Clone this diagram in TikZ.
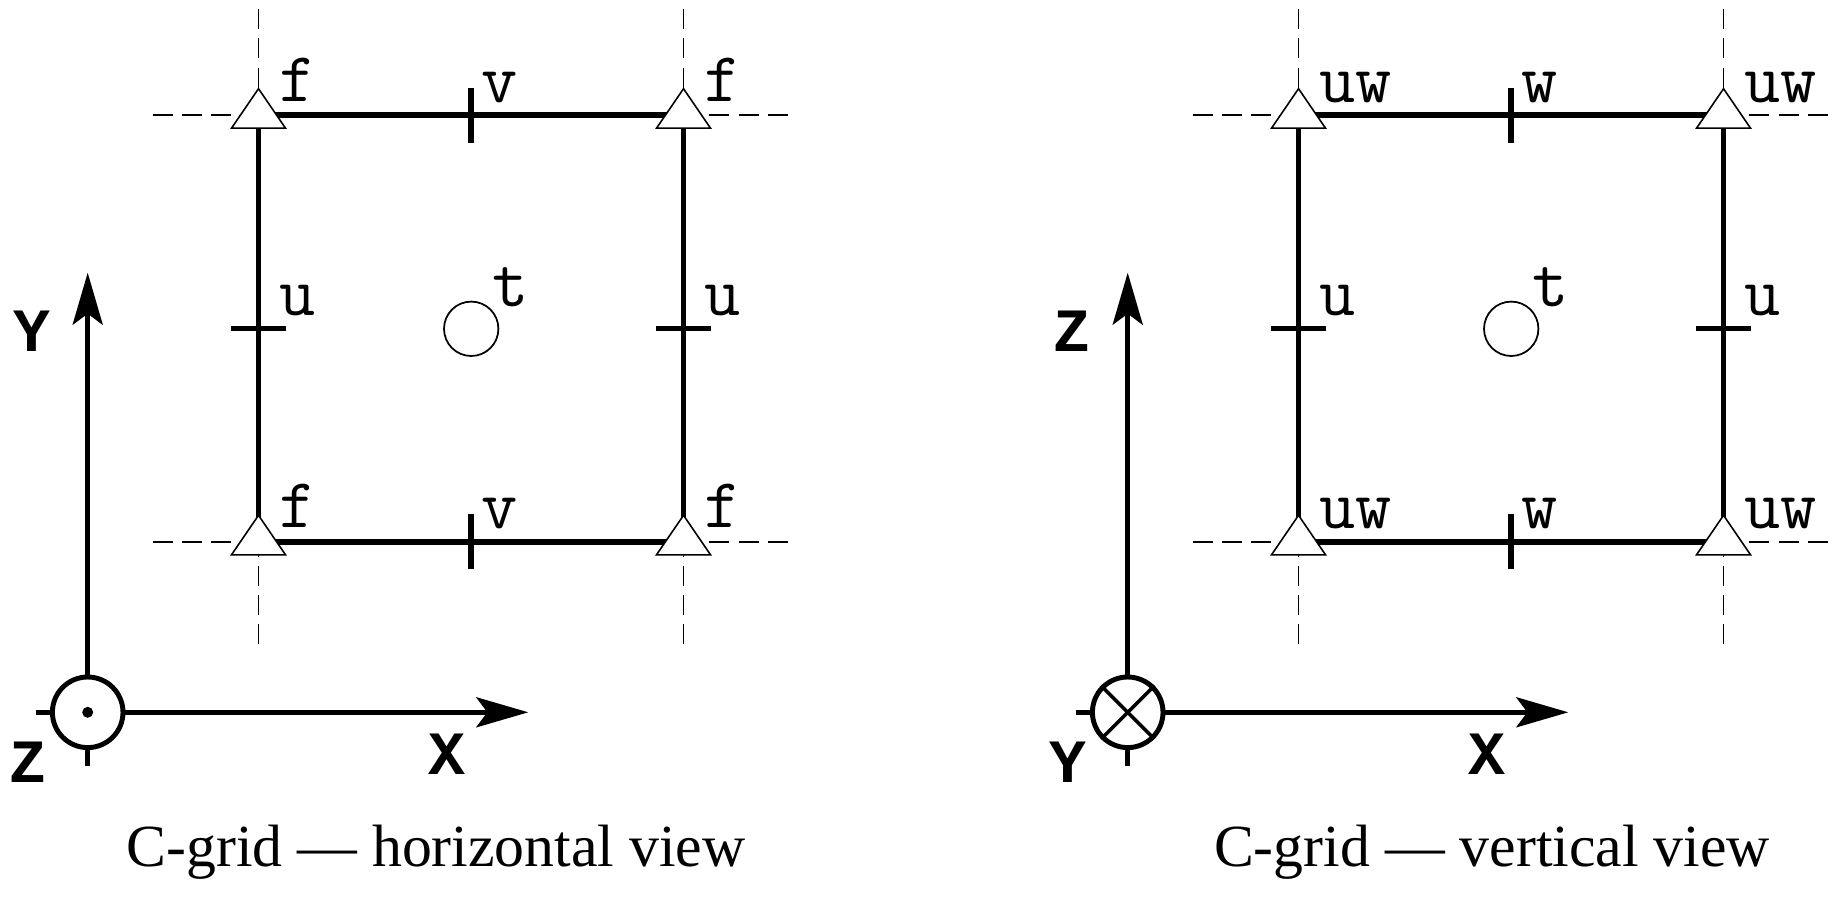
\documentclass[tikz,border=0pt]{standalone}
\usepackage{fontspec}
\setmainfont{Liberation Serif}
\newfontfamily\axfont{Liberation Mono}
\usetikzlibrary{arrows.meta}

\begin{document}
\begin{tikzpicture}[
    edge/.style={line width=1.6pt},
    tickmark/.style={line width=1.6pt},
    guide/.style={line width=0.45pt, dash pattern=on 0.2cm off 0.093cm},
    axis/.style={line width=1.4pt, -{Stealth[length=0.52cm, width=0.30cm, inset=0.11cm]}},
    stub/.style={line width=1.4pt},
    orig/.style={circle, draw, line width=1.4pt, minimum size=0.706cm, inner sep=0pt},
    tpt/.style={circle, draw, line width=0.5pt, minimum size=0.544cm, inner sep=0pt},
    lbl/.style={anchor=base west, inner sep=0pt, font=\fontsize{20}{22}\selectfont\ttfamily},
    axlbl/.style={inner sep=0pt, font=\fontsize{17.5}{20}\selectfont\axfont\bfseries},
    caption/.style={anchor=base, inner sep=0pt, font=\fontsize{17}{19}\selectfont},
    tri/.pic={\draw[fill=white, line width=0.45pt] (0,0.265) -- (0.27,-0.13) -- (-0.27,-0.13) -- cycle;}
]
    \useasboundingbox (0,0) rectangle (18.43,9.18);

    % horizontal view
    \coordinate (hbl) at (2.585,3.762);
    \coordinate (hbr) at (6.835,3.762);
    \coordinate (htr) at (6.835,8.028);
    \coordinate (htl) at (2.585,8.028);
    \coordinate (hul) at (2.585,5.895);
    \coordinate (hur) at (6.835,5.895);
    \coordinate (hvb) at (4.71,3.762);
    \coordinate (hvt) at (4.71,8.028);

    \draw[guide] ([yshift=1.06cm]htl) -- ([yshift=-1.06cm]hbl);
    \draw[guide] ([yshift=1.06cm]htr) -- ([yshift=-1.06cm]hbr);
    \draw[guide] ([xshift=-1.06cm]htl) -- ([xshift=1.08cm]htr);
    \draw[guide] ([xshift=-1.06cm]hbl) -- ([xshift=1.08cm]hbr);

    \draw[edge] (hbl) -- (hbr) -- (htr) -- (htl) -- cycle;
    \draw[tickmark] ([xshift=-0.275cm]hul) -- ([xshift=0.275cm]hul);
    \draw[tickmark] ([xshift=-0.275cm]hur) -- ([xshift=0.275cm]hur);
    \draw[tickmark] ([yshift=-0.275cm]hvb) -- ([yshift=0.275cm]hvb);
    \draw[tickmark] ([yshift=-0.275cm]hvt) -- ([yshift=0.275cm]hvt);

    \pic at (hbl) {tri};
    \pic at (hbr) {tri};
    \pic at (htr) {tri};
    \pic at (htl) {tri};

    \node[tpt] (ht) at (4.712,5.892) {};

    \node[lbl] (hftl) at ([shift={(0.2,0.14)}]htl) {f};
    \node[lbl] (hftr) at ([shift={(0.2,0.14)}]htr) {f};
    \node[lbl] (hfbl) at ([shift={(0.2,0.14)}]hbl) {f};
    \node[lbl] (hfbr) at ([shift={(0.2,0.14)}]hbr) {f};
    \node[lbl] (hvtl) at ([shift={(0.1,0.13)}]hvt) {v};
    \node[lbl] (hvbl) at ([shift={(0.1,0.13)}]hvb) {v};
    \node[lbl] (hull) at ([shift={(0.2,0.13)}]hul) {u};
    \node[lbl] (hurl) at ([shift={(0.2,0.13)}]hur) {u};
    \node[lbl] (htl) at ([shift={(0.21,0.225)}]ht.center) {t};

    % axes, z out of the page
    \node[orig] (ho) at (0.877,2.057) {};
    \coordinate (hxtip) at (5.283,2.057);
    \coordinate (hytip) at (0.877,6.453);
    \coordinate (hstubw) at (0.36,2.057);
    \coordinate (hstubs) at (0.877,1.523);
    \draw[axis] (ho.east) -- (hxtip);
    \draw[axis] (ho.north) -- (hytip);
    \draw[stub] (hstubw) -- (ho.west);
    \draw[stub] (ho.south) -- (hstubs);
    \fill (ho.center) circle (0.055);

    \node[axlbl] (hy) at (0.323,5.87) {Y};
    \node[axlbl] (hz) at (0.283,1.56) {Z};
    \node[axlbl] (hx) at (4.47,1.633) {X};

    \node[caption] (hcap) at (4.36,0.52) {C-grid --- horizontal view};

    % vertical view
    \begin{scope}[xshift=10.4cm]
    \coordinate (vbl) at (2.585,3.762);
    \coordinate (vbr) at (6.835,3.762);
    \coordinate (vtr) at (6.835,8.028);
    \coordinate (vtl) at (2.585,8.028);
    \coordinate (vul) at (2.585,5.895);
    \coordinate (vur) at (6.835,5.895);
    \coordinate (vwb) at (4.71,3.762);
    \coordinate (vwt) at (4.71,8.028);

    \draw[guide] ([yshift=1.06cm]vtl) -- ([yshift=-1.06cm]vbl);
    \draw[guide] ([yshift=1.06cm]vtr) -- ([yshift=-1.06cm]vbr);
    \draw[guide] ([xshift=-1.06cm]vtl) -- ([xshift=1.08cm]vtr);
    \draw[guide] ([xshift=-1.06cm]vbl) -- ([xshift=1.08cm]vbr);

    \draw[edge] (vbl) -- (vbr) -- (vtr) -- (vtl) -- cycle;
    \draw[tickmark] ([xshift=-0.275cm]vul) -- ([xshift=0.275cm]vul);
    \draw[tickmark] ([xshift=-0.275cm]vur) -- ([xshift=0.275cm]vur);
    \draw[tickmark] ([yshift=-0.275cm]vwb) -- ([yshift=0.275cm]vwb);
    \draw[tickmark] ([yshift=-0.275cm]vwt) -- ([yshift=0.275cm]vwt);

    \pic at (vbl) {tri};
    \pic at (vbr) {tri};
    \pic at (vtr) {tri};
    \pic at (vtl) {tri};

    \node[tpt] (vt) at (4.712,5.892) {};

    \node[lbl] (vuwtl) at ([shift={(0.2,0.13)}]vtl) {uw};
    \node[lbl] (vuwtr) at ([shift={(0.2,0.13)}]vtr) {uw};
    \node[lbl] (vuwbl) at ([shift={(0.2,0.13)}]vbl) {uw};
    \node[lbl] (vuwbr) at ([shift={(0.2,0.13)}]vbr) {uw};
    \node[lbl] (vwtl) at ([shift={(0.1,0.13)}]vwt) {w};
    \node[lbl] (vwbl) at ([shift={(0.1,0.13)}]vwb) {w};
    \node[lbl] (vull) at ([shift={(0.2,0.13)}]vul) {u};
    \node[lbl] (vurl) at ([shift={(0.2,0.13)}]vur) {u};
    \node[lbl] (vtl) at ([shift={(0.21,0.225)}]vt.center) {t};

    % axes, y into the page
    \node[orig] (vo) at (0.877,2.057) {};
    \coordinate (vxtip) at (5.283,2.057);
    \coordinate (vztip) at (0.877,6.453);
    \coordinate (vstubw) at (0.36,2.057);
    \coordinate (vstubs) at (0.877,1.523);
    \draw[axis] (vo.east) -- (vxtip);
    \draw[axis] (vo.north) -- (vztip);
    \draw[stub] (vstubw) -- (vo.west);
    \draw[stub] (vo.south) -- (vstubs);
    \draw[line width=1pt] (vo.north east) -- (vo.south west);
    \draw[line width=1pt] (vo.north west) -- (vo.south east);

    \node[axlbl] (vz) at (0.323,5.87) {Z};
    \node[axlbl] (vy) at (0.275,1.56) {Y};
    \node[axlbl] (vx) at (4.47,1.633) {X};

    \node[caption] (vcap) at (4.52,0.52) {C-grid --- vertical view};
    \end{scope}
\end{tikzpicture}
\end{document}
